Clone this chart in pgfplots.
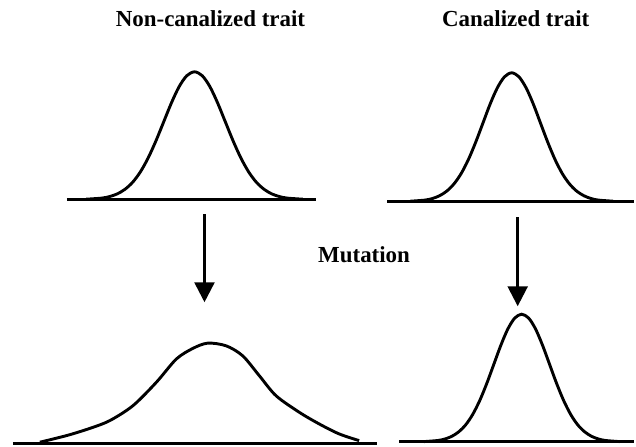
\documentclass[border=0pt]{standalone}
\usepackage{fontspec}
\setmainfont{Liberation Serif}
\usepackage{pgfplots}
\pgfplotsset{compat=1.18}
\usetikzlibrary{arrows.meta}

\begin{document}
\begin{tikzpicture}[lbl/.style={font=\fontsize{23bp}{26bp}\selectfont\bfseries}]
\begin{axis}[width=636bp, height=448bp, scale only axis,
  xmin=0, xmax=636, ymin=0, ymax=448, hide axis, clip=false,
  curve/.style={black, solid, line width=2.9bp, smooth, mark=none},
  base/.style={black, solid, line width=3.2bp, sharp plot, mark=none}]
  % keep the page at the full frame
  \path (axis cs:0,0) rectangle (axis cs:636,448);

  % baselines
  \addplot[base] coordinates {(67,248) (317,248)};
  \addplot[base] coordinates {(388,246) (636,246)};
  \addplot[base] coordinates {(13,3) (378,3)};
  \addplot[base] coordinates {(400,5) (636,5)};

  % non-canalized trait, before mutation
  \addplot[curve] coordinates {
    (86.5,248.3) (102,249.4) (109.75,250.9) (117.5,253.6) (125.25,258.2)
    (133,265.3) (140.75,275.7) (148.5,289.6) (156.25,306.6) (164,325.6)
    (171.75,344.6) (179.5,361.0) (187.25,372.1) (195,376) (202.75,372.1)
    (210.5,361.0) (218.25,344.6) (226,325.6) (233.75,306.6) (241.5,289.6)
    (249.25,275.7) (257,265.3) (264.75,258.2) (272.5,253.6) (280.25,250.9)
    (288,249.4) (303.5,248.3)};

  % canalized trait, before mutation
  \addplot[curve] coordinates {
    (411.5,246.3) (426,247.4) (433.25,248.9) (440.5,251.7) (447.75,256.3)
    (455,263.5) (462.25,273.9) (469.5,287.9) (476.75,305.1) (484,324.2)
    (491.25,343.4) (498.5,359.8) (505.75,371.0) (513,375) (520.25,371.0)
    (527.5,359.8) (534.75,343.4) (542,324.2) (549.25,305.1) (556.5,287.9)
    (563.75,273.9) (571,263.5) (578.25,256.3) (585.5,251.7) (592.75,248.9)
    (600,247.4) (614.5,246.3)};

  % non-canalized trait, after mutation
  \addplot[curve] coordinates {
    (40,4.7) (66.7,11.3) (90,18.5) (110,26.3) (133.3,41.3) (156.7,64.7)
    (176.7,88) (193.3,98.7) (208.3,104) (226.7,101.3) (243.3,91.3)
    (260,71.3) (276.7,51.3) (300,34.7) (320,23) (340,13) (360,6.3)};

  % canalized trait, after mutation
  \addplot[curve] coordinates {
    (425,5.3) (439,6.4) (446,7.9) (453,10.6) (460,15.2) (467,22.3)
    (474,32.7) (481,46.6) (488,63.6) (495,82.6) (502,101.6) (509,118.0)
    (516,129.1) (523,133) (530,129.1) (537,118.0) (544,101.6) (551,82.6)
    (558,63.6) (565,46.6) (572,32.7) (579,22.3) (586,15.2) (593,10.6)
    (600,7.9) (607,6.4) (621,5.3)};

  % arrows
  \draw[line width=2.6bp, -{Triangle[width=20bp,length=20bp]}]
    (axis cs:205,233) -- (axis cs:205,145);
  \draw[line width=2.6bp, -{Triangle[width=20bp,length=20bp]}]
    (axis cs:519,230) -- (axis cs:519,141);

  % labels
  \node[lbl] at (axis cs:211,429) {Non-canalized trait};
  \node[lbl] at (axis cs:517,429) {Canalized trait};
  \node[lbl] at (axis cs:365,193) {Mutation};
\end{axis}
\end{tikzpicture}
\end{document}
